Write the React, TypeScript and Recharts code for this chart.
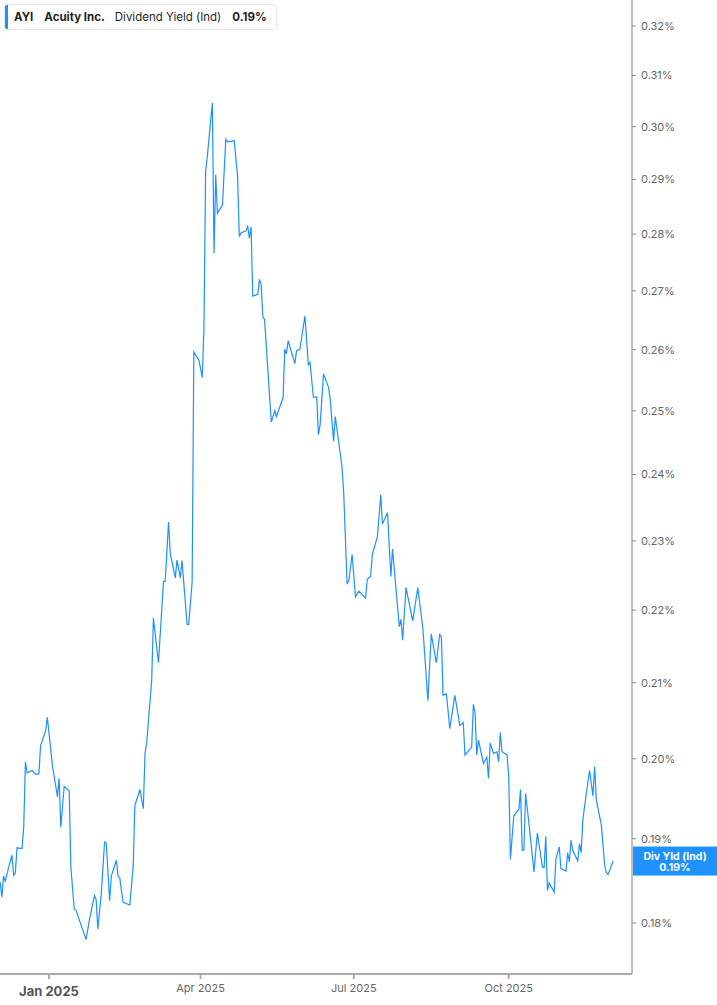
import React from 'react';
import { LineChart, Line, XAxis, YAxis, ReferenceLine } from 'recharts';

// Days since 2025-01-01 (negative = December 2024)
const dayOffsets: number[] = [
  -29, -28, -27, -26, -24, -22, -21, -20, -19, -16, -15, -14, -13, -10, -8, -6, -5, -2, -1, 2,
  5, 6, 7, 9, 12, 13, 15, 16, 22, 24, 27, 28, 29, 31, 33, 34, 36, 37, 40, 41,
  42, 44, 48, 50, 51, 54, 56, 57, 58, 61, 62, 65, 68, 69, 71, 72, 75, 76, 78, 79,
  82, 83, 85, 86, 89, 91, 92, 93, 94, 97, 98, 99, 100, 103, 105, 106, 110, 112, 113, 114,
  117, 118, 119, 120, 121, 124, 125, 126, 127, 128, 132, 134, 135, 139, 140, 141, 142, 146, 147, 149,
  152, 154, 155, 157, 159, 160, 161, 163, 166, 167, 169, 170, 174, 175, 177, 178, 180, 182, 184, 188,
  189, 191, 192, 195, 197, 198, 201, 203, 204, 208, 209, 210, 212, 216, 219, 222, 225, 227, 230, 232,
  233, 234, 236, 238, 241, 244, 246, 247, 251, 252, 253, 254, 255, 258, 260, 261, 262, 264, 266, 267,
  268, 269, 272, 273, 274, 276, 279, 280, 281, 282, 283, 285, 288, 290, 293, 294, 295, 296, 297, 300,
  301, 303, 304, 307, 308, 309, 310, 311, 314, 315, 316, 317, 319, 321, 323, 324, 325, 328, 330, 331,
  332, 335,
];

// Dividend yield (indicated), percent
const yieldPct: number[] = [
  0.1848, 0.1830, 0.1855, 0.1849, 0.1865, 0.1880, 0.1856, 0.1859, 0.1889, 0.1888, 0.1915, 0.1996, 0.1982, 0.1985, 0.1980, 0.1981, 0.2017, 0.2036, 0.2054, 0.1992,
  0.1952, 0.1975, 0.1914, 0.1965, 0.1959, 0.1865, 0.1816, 0.1815, 0.1781, 0.1804, 0.1832, 0.1827, 0.1793, 0.1833, 0.1896, 0.1895, 0.1826, 0.1855, 0.1874, 0.1855,
  0.1853, 0.1824, 0.1821, 0.1867, 0.1941, 0.1961, 0.1937, 0.2007, 0.2020, 0.2104, 0.2189, 0.2127, 0.2241, 0.2241, 0.2328, 0.2282, 0.2246, 0.2272, 0.2246, 0.2271,
  0.2180, 0.2180, 0.2241, 0.2596, 0.2583, 0.2554, 0.2635, 0.2915, 0.2943, 0.3046, 0.2766, 0.2909, 0.2838, 0.2853, 0.2976, 0.2971, 0.2973, 0.2905, 0.2796, 0.2802,
  0.2806, 0.2814, 0.2793, 0.2813, 0.2691, 0.2694, 0.2720, 0.2710, 0.2655, 0.2651, 0.2482, 0.2500, 0.2491, 0.2521, 0.2601, 0.2593, 0.2615, 0.2577, 0.2598, 0.2601,
  0.2657, 0.2575, 0.2579, 0.2522, 0.2522, 0.2462, 0.2478, 0.2560, 0.2538, 0.2518, 0.2452, 0.2491, 0.2412, 0.2372, 0.2238, 0.2241, 0.2280, 0.2219, 0.2227, 0.2217,
  0.2244, 0.2248, 0.2280, 0.2306, 0.2369, 0.2325, 0.2342, 0.2248, 0.2288, 0.2177, 0.2187, 0.2158, 0.2232, 0.2185, 0.2232, 0.2175, 0.2076, 0.2167, 0.2127, 0.2166,
  0.2163, 0.2083, 0.2085, 0.2039, 0.2083, 0.2043, 0.2047, 0.2005, 0.2015, 0.2071, 0.2060, 0.2005, 0.2024, 0.1994, 0.2002, 0.1975, 0.2020, 0.2007, 0.2009, 0.1996,
  0.2034, 0.2009, 0.2005, 0.1978, 0.1875, 0.1928, 0.1936, 0.1961, 0.1886, 0.1886, 0.1956, 0.1919, 0.1860, 0.1907, 0.1866, 0.1865, 0.1903, 0.1838, 0.1847, 0.1836,
  0.1875, 0.1890, 0.1864, 0.1861, 0.1883, 0.1872, 0.1898, 0.1886, 0.1873, 0.1894, 0.1883, 0.1923, 0.1955, 0.1985, 0.1953, 0.1990, 0.1948, 0.1917, 0.1867, 0.1859,
  0.1857, 0.1873,
];

const xTickValues: number[] = [0, 90, 181, 273];
const xTickLabels: string[] = ['Jan 2025', 'Apr 2025', 'Jul 2025', 'Oct 2025'];
const yTickValues: number[] = [0.18, 0.19, 0.2, 0.21, 0.22, 0.23, 0.24, 0.25, 0.26, 0.27, 0.28, 0.29, 0.3, 0.31, 0.32];

const xDomain: [number, number] = [-29.1, 346.2];
const yDomain: [number, number] = [0.17421, 0.32538];

const BLUE = '#1E90FF';
const FONT = 'Inter, "Noto Sans", sans-serif';

const data = dayOffsets.map((d, i) => ({ day: d, value: yieldPct[i] }));
const lastValue = yieldPct[yieldPct.length - 1];

const XTick = (props: any) => {
  const { x, y, payload } = props;
  const i = xTickValues.indexOf(payload.value);
  const isYear = i === 0;
  return (
    <text
      x={x}
      y={y}
      dy={isYear ? 15 : 11}
      textAnchor="middle"
      fill={isYear ? '#555' : '#666'}
      fontSize={isYear ? 13 : 11}
      fontWeight={isYear ? 700 : 400}
      fontFamily={FONT}
    >
      {xTickLabels[i]}
    </text>
  );
};

const LastLabel = (props: any) => {
  const vb = props.viewBox || {};
  const x = (vb.x || 0) + (vb.width || 0);
  const y = vb.y || 0;
  return (
    <g>
      <rect x={x + 1} y={y - 14.5} width={85} height={29} fill={BLUE} />
      <text x={x + 43} y={y - 1.5} textAnchor="middle" fill="#fff" fontSize={10.5} fontWeight={700} fontFamily={FONT}>
        Div Yld (Ind)
      </text>
      <text x={x + 43} y={y + 10} textAnchor="middle" fill="#fff" fontSize={10.5} fontWeight={700} fontFamily={FONT}>
        {lastValue.toFixed(2)}%
      </text>
    </g>
  );
};

const legendItem: React.CSSProperties = { whiteSpace: 'nowrap', flexShrink: 0 };

export default function App() {
  return (
    <div style={{ position: 'absolute', left: 0, top: 0, width: 717, height: 1005, background: '#fff' }}>
      <LineChart width={717} height={1005} data={data} margin={{ top: 0, right: 0, bottom: 0, left: 0 }}>
        <XAxis
          dataKey="day"
          type="number"
          domain={xDomain}
          allowDataOverflow
          ticks={xTickValues}
          interval={0}
          height={31}
          tickSize={5}
          tickMargin={2}
          axisLine={{ stroke: '#aaa', strokeWidth: 2 }}
          tickLine={{ stroke: '#aaa', strokeWidth: 2 }}
          tick={<XTick />}
        />
        <YAxis
          orientation="right"
          type="number"
          scale="log"
          domain={yDomain}
          allowDataOverflow
          ticks={yTickValues}
          interval={0}
          width={85}
          tickSize={4}
          tickMargin={5}
          axisLine={{ stroke: '#aaa', strokeWidth: 1.5 }}
          tickLine={{ stroke: '#888' }}
          tick={{ fill: '#666', fontSize: 11, fontFamily: FONT }}
          tickFormatter={(v: number) => `${v.toFixed(2)}%`}
        />
        <Line
          type="linear"
          dataKey="value"
          stroke={BLUE}
          strokeWidth={1.2}
          dot={false}
          activeDot={false}
          isAnimationActive={false}
        />
        <ReferenceLine y={lastValue} stroke="none" label={<LastLabel />} />
      </LineChart>
      <div
        style={{
          position: 'absolute',
          left: 4,
          top: 4,
          width: 273,
          height: 26,
          boxSizing: 'border-box',
          border: '1px solid #e6e6e6',
          borderRadius: 3,
          background: '#fff',
          display: 'flex',
          alignItems: 'center',
          fontFamily: FONT,
          fontSize: 11.5,
          color: '#1f1f1f',
          overflow: 'hidden',
        }}
      >
        <div style={{ width: 3, alignSelf: 'stretch', background: BLUE, marginRight: 6, flexShrink: 0 }} />
        <span style={{ ...legendItem, fontWeight: 700, marginRight: 11 }}>AYI</span>
        <span style={{ ...legendItem, fontWeight: 700, marginRight: 10 }}>Acuity Inc.</span>
        <span style={{ ...legendItem, fontWeight: 400, marginRight: 11 }}>Dividend Yield (Ind)</span>
        <span style={{ ...legendItem, fontWeight: 700 }}>{lastValue.toFixed(2)}%</span>
      </div>
    </div>
  );
}
